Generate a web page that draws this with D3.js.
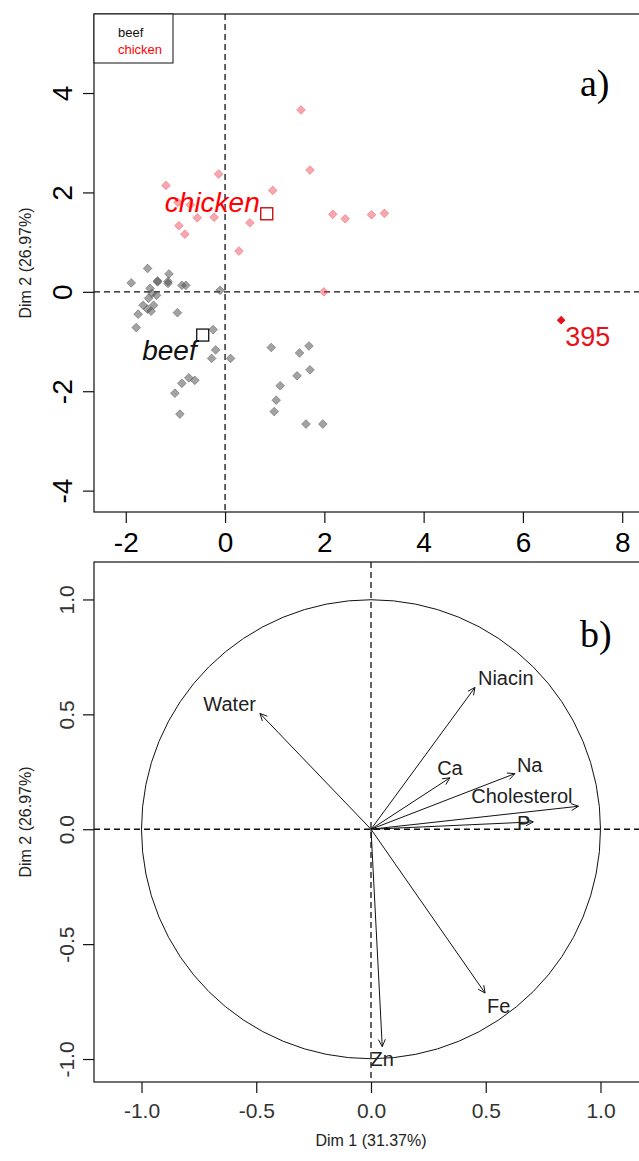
<!DOCTYPE html>
<meta charset="utf-8">

<style>
  body { margin: 0; background: #fff; }
  svg { display: block; font-family: "Liberation Sans", Arial, sans-serif; }
</style>

<svg class="chart"></svg>

<script src="https://d3js.org/d3.v7.min.js"></script>
<script>

  var width  = 639;
  var height = 1161;

  // panel a) individuals
  var chickenX = [1.53, 1.71, -0.13, -1.19, 0.96, 2.17, 2.42, 2.95, 3.21, -0.70, -0.95,
                  -0.56, -0.22, 0.50, -0.93, -0.81, 0.28, 1.99];
  var chickenY = [3.66, 2.45, 2.37, 2.14, 2.04, 1.56, 1.47, 1.55, 1.58, 1.75, 1.80,
                  1.49, 1.50, 1.39, 1.33, 1.16, 0.82, 0.00];

  var beefX = [-1.56, -1.89, -1.13, -1.36, -1.15, -0.87, -0.79, -1.51, -1.47, -1.38,
               -1.54, -0.10, -1.65, -1.44, -1.56, -1.49, -1.75, -0.96, -1.79, -0.24,
               -0.19, -0.27, 0.11, 0.93, 1.69, 1.50, 1.71, 1.45, 1.11, 1.03,
               0.99, 1.63, 1.97, -0.73, -0.61, -0.87, -1.01, -0.91, -1.36, -1.15];
  var beefY = [0.47, 0.18, 0.36, 0.20, 0.17, 0.13, 0.13, 0.07, -0.03, -0.07,
               -0.13, 0.03, -0.27, -0.27, -0.35, -0.39, -0.45, -0.42, -0.72, -0.76,
               -1.17, -1.34, -1.34, -1.12, -1.09, -1.23, -1.57, -1.69, -1.89, -2.18,
               -2.41, -2.66, -2.66, -1.73, -1.78, -1.84, -2.04, -2.46, 0.22, 0.21];

  var outlierName = "395";
  var outlierX    = 6.77;
  var outlierY    = -0.57;

  var groupNames = ["beef", "chicken"];
  var groupX     = [-0.45, 0.84];
  var groupY     = [-0.87, 1.57];

  // panel b) variables
  var varNames = ["Water", "Niacin", "Ca", "Na", "Cholesterol", "P", "Fe", "Zn"];
  var varX     = [-0.484, 0.453, 0.344, 0.627, 0.904, 0.707, 0.497, 0.049];
  var varY     = [0.504, 0.617, 0.224, 0.242, 0.100, 0.032, -0.713, -0.946];

  var ticksAx = [-2, 0, 2, 4, 6, 8];
  var ticksAy = [-4, -2, 0, 2, 4];
  var ticksB  = [-1, -0.5, 0, 0.5, 1];

  var dim1Title = "Dim 1 (31.37%)";
  var dim2Title = "Dim 2 (26.97%)";

  var chart = d3.select(".chart")
      .attr("width", width)
      .attr("height", height);

  // ---------- panel a)
  var boxA = { left: 94, top: 14, bottom: 512, right: 700 };

  var xA = d3.scaleLinear().domain([-2.64, (boxA.right - 225) / 49.65]).range([boxA.left, boxA.right]);
  var yA = d3.scaleLinear().domain([-4.43, 5.59]).range([boxA.bottom, boxA.top]);

  var panelA = chart.append("g");

  panelA.append("rect")
      .attr("x", boxA.left)
      .attr("y", boxA.top)
      .attr("width", boxA.right - boxA.left)
      .attr("height", boxA.bottom - boxA.top)
      .attr("fill", "none")
      .attr("stroke", "#111")
      .attr("stroke-width", 1.2);

  panelA.append("line")
      .attr("x1", xA(0)).attr("x2", xA(0))
      .attr("y1", boxA.top).attr("y2", boxA.bottom)
      .attr("stroke", "#111").attr("stroke-dasharray", "6,4").attr("stroke-width", 1.3);
  panelA.append("line")
      .attr("x1", boxA.left).attr("x2", boxA.right)
      .attr("y1", yA(0)).attr("y2", yA(0))
      .attr("stroke", "#111").attr("stroke-dasharray", "6,4").attr("stroke-width", 1.3);

  var diamond = d3.symbol().type(d3.symbolSquare).size(38);

  var beefData = beefX.map(function(x, i) { return { x: x, y: beefY[i] }; });
  var chickenData = chickenX.map(function(x, i) { return { x: x, y: chickenY[i] }; });

  panelA.append("g")
    .selectAll("path")
    .data(beefData)
    .enter().append("path")
      .attr("d", diamond)
      .attr("transform", function(d) { return "translate(" + xA(d.x) + "," + yA(d.y) + ") rotate(45)"; })
      .attr("fill", "#4e4e4e")
      .attr("fill-opacity", 0.52)
      .attr("stroke", "#4e4e4e")
      .attr("stroke-opacity", 0.55)
      .attr("stroke-width", 0.8);

  panelA.append("g")
    .selectAll("path")
    .data(chickenData)
    .enter().append("path")
      .attr("d", diamond)
      .attr("transform", function(d) { return "translate(" + xA(d.x) + "," + yA(d.y) + ") rotate(45)"; })
      .attr("fill", "rgb(240,60,75)")
      .attr("fill-opacity", 0.45)
      .attr("stroke", "rgb(230,60,75)")
      .attr("stroke-opacity", 0.45)
      .attr("stroke-width", 0.8);

  panelA.append("path")
      .attr("d", diamond)
      .attr("transform", "translate(" + xA(outlierX) + "," + yA(outlierY) + ") rotate(45)")
      .attr("fill", "#e8101a");

  panelA.append("text")
      .attr("x", xA(outlierX) + 4)
      .attr("y", yA(outlierY) + 26)
      .attr("fill", "#e8101a")
      .attr("font-size", 27)
      .text(outlierName);

  // group centres
  var groupColor = ["#111", "#c00000"];
  var groupText  = ["#111", "#ff0000"];
  var groupPlace = [[-2, 25], [-3, -2]];

  groupNames.forEach(function(name, i) {
    panelA.append("rect")
        .attr("x", xA(groupX[i]) - 6)
        .attr("y", yA(groupY[i]) - 6)
        .attr("width", 12)
        .attr("height", 12)
        .attr("fill", "none")
        .attr("stroke", groupColor[i])
        .attr("stroke-width", 1.3);
    panelA.append("text")
        .attr("x", xA(groupX[i]) + groupPlace[i][0] - 4)
        .attr("y", yA(groupY[i]) + groupPlace[i][1])
        .attr("text-anchor", "end")
        .attr("font-style", "italic")
        .attr("font-size", 28)
        .attr("fill", groupText[i])
        .text(name);
  });

  // legend
  panelA.append("rect")
      .attr("x", boxA.left).attr("y", boxA.top)
      .attr("width", 79).attr("height", 49)
      .attr("fill", "#fff").attr("stroke", "#111").attr("stroke-width", 1);
  groupNames.forEach(function(name, i) {
    panelA.append("text")
        .attr("x", 118)
        .attr("y", 37 + i * 17)
        .attr("font-size", 13)
        .attr("fill", groupText[i])
        .text(name);
  });

  var axisAx = panelA.append("g")
      .attr("transform", "translate(0," + boxA.bottom + ")")
      .call(d3.axisBottom(xA).tickValues(ticksAx).tickSize(11).tickPadding(10)
              .tickFormat(function(d) { return String(d); }));
  axisAx.select(".domain").remove();
  axisAx.selectAll("line").attr("stroke", "#111").attr("stroke-width", 1.2);
  axisAx.selectAll("text")
      .attr("font-size", 28)
      .attr("fill", "#000")
      .attr("dy", 0)
      .attr("y", 40);

  var axisAy = panelA.append("g")
      .attr("transform", "translate(" + boxA.left + ",0)")
      .call(d3.axisLeft(yA).tickValues(ticksAy).tickSize(11)
              .tickFormat(function(d) { return String(d); }));
  axisAy.select(".domain").remove();
  axisAy.selectAll("line").attr("stroke", "#111").attr("stroke-width", 1.2);
  axisAy.selectAll("text")
      .attr("font-size", 28)
      .attr("fill", "#000")
      .attr("x", 0)
      .attr("dy", 0)
      .attr("text-anchor", "middle")
      .attr("transform", "translate(-22,0) rotate(-90)");

  panelA.append("text")
      .attr("transform", "translate(31," + (boxA.top + boxA.bottom) / 2 + ") rotate(-90)")
      .attr("text-anchor", "middle")
      .attr("font-size", 16)
      .attr("fill", "#222")
      .text(dim2Title);

  panelA.append("text")
      .attr("x", 580)
      .attr("y", 96)
      .attr("font-family", "'Liberation Serif', 'DejaVu Serif', serif")
      .attr("font-size", 38)
      .text("a)");

  // ---------- panel b)
  var boxB = { left: 94, top: 562, bottom: 1082, right: 648 };

  var xB = d3.scaleLinear().domain([-1.207, 1.207]).range([boxB.left, boxB.right]);
  var yB = d3.scaleLinear().domain([-1.10, 1.163]).range([boxB.bottom, boxB.top]);

  var panelB = chart.append("g");

  panelB.append("rect")
      .attr("x", boxB.left)
      .attr("y", boxB.top)
      .attr("width", boxB.right - boxB.left)
      .attr("height", boxB.bottom - boxB.top)
      .attr("fill", "none")
      .attr("stroke", "#111")
      .attr("stroke-width", 1.2);

  panelB.append("line")
      .attr("x1", xB(0)).attr("x2", xB(0))
      .attr("y1", boxB.top).attr("y2", boxB.bottom)
      .attr("stroke", "#111").attr("stroke-dasharray", "6,4").attr("stroke-width", 1.3);
  panelB.append("line")
      .attr("x1", boxB.left).attr("x2", boxB.right)
      .attr("y1", yB(0)).attr("y2", yB(0))
      .attr("stroke", "#111").attr("stroke-dasharray", "6,4").attr("stroke-width", 1.3);

  panelB.append("circle")
      .attr("cx", xB(0))
      .attr("cy", yB(0))
      .attr("r", xB(1) - xB(0))
      .attr("fill", "none")
      .attr("stroke", "#111")
      .attr("stroke-width", 1);

  // label anchor, dx, dy per variable
  var varPlace = {
    "Water"       : ["end", -4, -2],
    "Niacin"      : ["start", 3, -2],
    "Ca"          : ["middle", 0, -3],
    "Na"          : ["start", 2, -2],
    "Cholesterol" : ["end", -6, -3],
    "P"           : ["end", -3, 8],
    "Fe"          : ["start", 2, 20],
    "Zn"          : ["middle", 0, 19]
  };

  var ox = xB(0), oy = yB(0);
  var headLen = 8, headAng = Math.PI / 7;

  varNames.forEach(function(name, i) {
    var tx = xB(varX[i]), ty = yB(varY[i]);
    var ang = Math.atan2(ty - oy, tx - ox);
    var g = panelB.append("g")
        .attr("stroke", "#111")
        .attr("stroke-width", 1);
    g.append("line")
        .attr("x1", ox).attr("y1", oy)
        .attr("x2", tx).attr("y2", ty);
    [-headAng, headAng].forEach(function(a) {
      g.append("line")
          .attr("x1", tx).attr("y1", ty)
          .attr("x2", tx - headLen * Math.cos(ang + a))
          .attr("y2", ty - headLen * Math.sin(ang + a));
    });
    var p = varPlace[name];
    panelB.append("text")
        .attr("x", tx + p[1])
        .attr("y", ty + p[2])
        .attr("text-anchor", p[0])
        .attr("font-size", 20)
        .attr("fill", "#222")
        .text(name);
  });

  var fmt = function(d) { return d.toFixed(1); };

  var axisBx = panelB.append("g")
      .attr("transform", "translate(0," + boxB.bottom + ")")
      .call(d3.axisBottom(xB).tickValues(ticksB).tickSize(11).tickFormat(fmt));
  axisBx.select(".domain").remove();
  axisBx.selectAll("line").attr("stroke", "#111").attr("stroke-width", 1.2);
  axisBx.selectAll("text")
      .attr("font-size", 21)
      .attr("fill", "#333")
      .attr("dy", 0)
      .attr("y", 36);

  var axisBy = panelB.append("g")
      .attr("transform", "translate(" + boxB.left + ",0)")
      .call(d3.axisLeft(yB).tickValues(ticksB).tickSize(11).tickFormat(fmt));
  axisBy.select(".domain").remove();
  axisBy.selectAll("line").attr("stroke", "#111").attr("stroke-width", 1.2);
  axisBy.selectAll("text")
      .attr("font-size", 21)
      .attr("fill", "#333")
      .attr("x", 0)
      .attr("dy", 0)
      .attr("text-anchor", "middle")
      .attr("transform", "translate(-20,0) rotate(-90)");

  panelB.append("text")
      .attr("transform", "translate(31," + (boxB.top + boxB.bottom) / 2 + ") rotate(-90)")
      .attr("text-anchor", "middle")
      .attr("font-size", 16)
      .attr("fill", "#222")
      .text(dim2Title);

  panelB.append("text")
      .attr("x", xB(0))
      .attr("y", 1146)
      .attr("text-anchor", "middle")
      .attr("font-size", 16)
      .attr("fill", "#222")
      .text(dim1Title);

  panelB.append("text")
      .attr("x", 580)
      .attr("y", 647)
      .attr("font-family", "'Liberation Serif', 'DejaVu Serif', serif")
      .attr("font-size", 38)
      .text("b)");

</script>
